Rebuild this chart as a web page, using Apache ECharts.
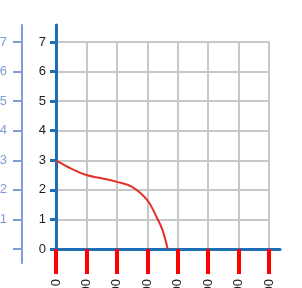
<!DOCTYPE html>
<html><head><meta charset="utf-8">
<script src="https://cdn.jsdelivr.net/npm/echarts@6/dist/echarts.min.js"></script>
<style>html,body{margin:0;padding:0;background:#fff}#c{width:302px;height:288px}</style>
</head><body><div id="c"></div>
<script>
const flow = [0, 50, 100, 150, 200, 250, 300, 330, 350, 367];
const pressure = [3, 2.72, 2.5, 2.39, 2.27, 2.1, 1.65, 1.09, 0.64, 0];
const xTicks = [0, 100, 200, 300, 400, 500, 600, 700];
const yTicks = [0, 1, 2, 3, 4, 5, 6, 7];
const paLabels = ['', '1', '2', '3', '4', '5', '6', '7'];

const BLUE = '#1f6db4', LBLUE = '#7f9dd6', GRAY = '#c8c8c8', FONT = 'Liberation Sans';
const chart = echarts.init(document.getElementById('c'));
chart.setOption({
  animation: false,
  textStyle: {fontFamily: FONT},
  grid: [
    {left: 56, top: 42, width: 213, height: 207, outerBoundsMode: 'none'},
    {left: 56, top: 25, width: 224, height: 238, outerBoundsMode: 'none'}
  ],
  xAxis: [
    {gridIndex: 0, type: 'value', min: xTicks[0], max: xTicks[xTicks.length-1], interval: 100,
     axisLine: {show: true, lineStyle: {color: BLUE, width: 3}},
     axisTick: {show: true, length: 25, lineStyle: {color: '#ff0000', width: 4}},
     axisLabel: {rotate: 90, margin: 30, fontSize: 13, color: '#222', fontFamily: FONT},
     splitLine: {show: true, lineStyle: {color: GRAY, width: 2}}},
    {gridIndex: 1, type: 'value', min: 0, max: 736,
     axisLine: {show: true, onZero: true, lineStyle: {color: BLUE, width: 3}},
     axisTick: {show: false}, axisLabel: {show: false}, splitLine: {show: false}}
  ],
  yAxis: [
    {gridIndex: 0, type: 'value', min: yTicks[0], max: yTicks[yTicks.length-1], interval: 1,
     axisLine: {show: true, lineStyle: {color: BLUE, width: 3}},
     axisTick: {show: true, length: 6, lineStyle: {color: BLUE, width: 3}},
     axisLabel: {margin: 10, fontSize: 13, color: '#222', fontFamily: FONT},
     splitLine: {show: true, lineStyle: {color: GRAY, width: 2}}},
    {gridIndex: 0, type: 'value', position: 'left', offset: 34, min: 0, max: 7, interval: 1,
     axisLine: {show: true, lineStyle: {color: LBLUE, width: 2}},
     axisTick: {show: true, length: 9, lineStyle: {color: LBLUE, width: 2}},
     axisLabel: {margin: 15, fontSize: 13, color: LBLUE, fontFamily: FONT,
                 formatter: v => paLabels[yTicks.indexOf(v)]},
     splitLine: {show: false}},
    {gridIndex: 1, type: 'value', min: -0.473, max: 7.575,
     axisLine: {show: true, onZero: false, lineStyle: {color: BLUE, width: 3}},
     axisTick: {show: false}, axisLabel: {show: false}, splitLine: {show: false}},
    {gridIndex: 1, type: 'value', position: 'left', offset: 34, min: -0.473, max: 7.575,
     axisLine: {show: true, onZero: false, lineStyle: {color: LBLUE, width: 2}},
     axisTick: {show: false}, axisLabel: {show: false}, splitLine: {show: false}}
  ],
  series: [
    {type: 'line', xAxisIndex: 0, yAxisIndex: 0, smooth: 0.4, showSymbol: false,
     lineStyle: {color: '#e2312a', width: 2},
     data: flow.map((x, i) => [x, pressure[i]])}
  ]
});
</script></body></html>
